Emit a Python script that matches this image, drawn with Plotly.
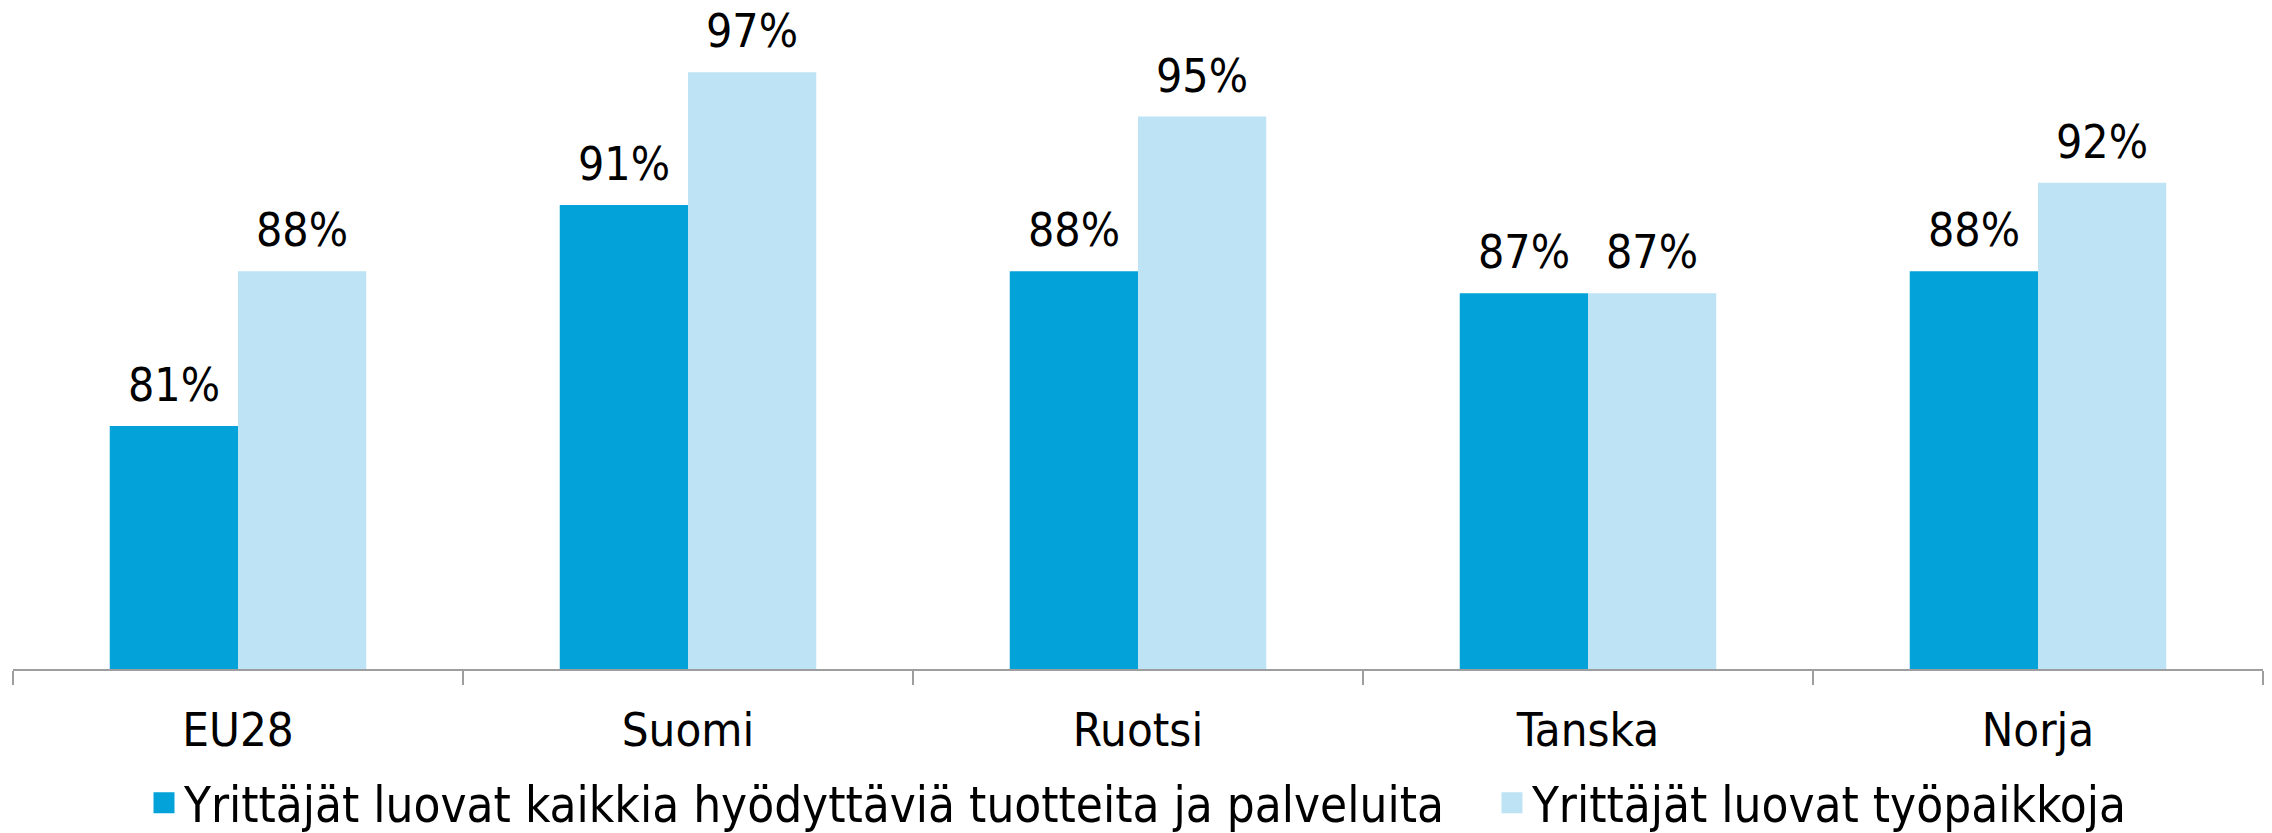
import plotly.graph_objects as go

categories = ["EU28", "Suomi", "Ruotsi", "Tanska", "Norja"]
series_names = ["Yrittäjät luovat kaikkia hyödyttäviä tuotteita ja palveluita",
                "Yrittäjät luovat työpaikkoja"]
values_products = [81, 91, 88, 87, 88]
values_jobs = [88, 97, 95, 87, 92]
colors = ["#03A3DA", "#BDE3F5"]

FONT = "DejaVu Sans Condensed, Liberation Sans Narrow, sans-serif"
BARGAP = 0.43

fig = go.Figure()
all_values = [values_products, values_jobs]
for name, vals, col in zip(series_names, all_values, colors):
    fig.add_trace(go.Bar(
        x=categories, y=vals, name=name, marker=dict(color=col, line=dict(width=0)),
        showlegend=False,
    ))
# data labels above each bar, placed on the axis scale (category index +- half bar)
half = (1 - BARGAP) / 4
for s, vals in enumerate(all_values):
    off = -half if s == 0 else half
    for i, v in enumerate(vals):
        fig.add_annotation(
            x=i + off, y=v, xref="x", yref="y", text=f"{v}%", showarrow=False,
            yanchor="bottom", xanchor="center", yshift=12,
            font=dict(family=FONT, size=46, color="#000000"),
        )
# legend-only entries with square swatches
legend_labels = [series_names[0] + "\u00a0\u00a0\u00a0", series_names[1]]
for name, col in zip(legend_labels, colors):
    fig.add_trace(go.Scatter(
        x=[None], y=[None], mode="markers", name=name,
        marker=dict(symbol="square", size=16, color=col, line=dict(color=col, width=5)),
    ))

fig.update_layout(
    width=2272, height=833,
    margin=dict(l=13, r=9, t=6, b=164),
    paper_bgcolor="white", plot_bgcolor="white",
    barmode="group", bargap=BARGAP, bargroupgap=0,
    font=dict(family=FONT, size=46, color="#000000"),
    showlegend=True,
    legend=dict(orientation="h", x=0.5, xanchor="center", xref="paper",
                y=0.036, yanchor="middle", yref="container",
                font=dict(family=FONT, size=49, color="#000000"),
                itemwidth=30, tracegroupgap=0, bgcolor="rgba(0,0,0,0)"),
)
fig.update_xaxes(
    type="category", tickson="boundaries", ticks="outside", ticklen=14, tickwidth=2,
    tickcolor="#9E9E9E", showline=True, linecolor="#9E9E9E", linewidth=2,
    showgrid=False, tickfont=dict(family=FONT, size=47, color="#000000"),
    ticklabelstandoff=19, automargin=False,
)
fig.update_yaxes(range=[70, 100], visible=False, showgrid=False, zeroline=False)

fig.write_html("out.html", config={"displayModeBar": False},
               post_script="document.body.style.margin='0';document.body.style.overflow='hidden';")
